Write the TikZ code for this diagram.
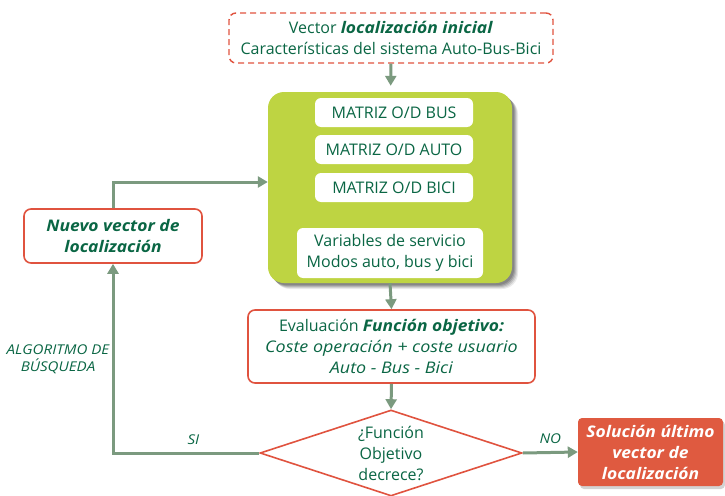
\documentclass[tikz,border=0pt]{standalone}
\usepackage{fontspec}
\setmainfont{Open Sans}[ItalicFeatures={FakeStretch=1.12}, BoldItalicFeatures={FakeStretch=1.09}]
\usetikzlibrary{shapes.geometric,arrows.meta,shadows}
\definecolor{txtgreen}{HTML}{0A6644}
\definecolor{arrowgr}{HTML}{7B9A7F}
\definecolor{redc}{HTML}{E0533F}
\definecolor{lime}{HTML}{BED442}
\definecolor{solred}{HTML}{DF5A40}
\tikzset{
  base/.style={text=txtgreen, align=center, font=\fontsize{16}{21}\selectfont, inner sep=0pt},
  redbox/.style={base, draw=redc, line width=1.6pt, rounded corners=7pt, fill=white},
  whitebox/.style={base, fill=white, rounded corners=6pt},
  flow/.style={draw=arrowgr, line width=3pt, -{Triangle[length=10pt,width=11pt]}},
  plainflow/.style={draw=arrowgr, line width=3pt},
  lbl/.style={text=txtgreen, font=\fontsize{13.5}{17}\selectfont\itshape, align=center, inner sep=0pt},
}
\begin{document}
\begin{tikzpicture}[x=1pt,y=-1pt]
\useasboundingbox (0,0) rectangle (725,495);

% top dashed box
\node[base, draw=redc, line width=1.4pt, dash pattern=on 6pt off 4pt, rounded corners=7pt,
      minimum width=324pt, minimum height=50pt] (top) at (391,38)
  {Vector \textbf{\textit{localización inicial}}\\Características del sistema Auto-Bus-Bici};

% green box with shadow
\foreach \o/\op in {6/0.08,5/0.1,4/0.12,3/0.15,2/0.15}{
  \fill[black, opacity=\op, rounded corners=16pt] (268+\o,92+\o) rectangle (512+\o,283+\o);
}
\node[fill=lime, rounded corners=16pt, minimum width=244pt, minimum height=191pt, inner sep=0pt] (green) at (390,187.5) {};

\node[whitebox, minimum width=158pt, minimum height=29pt] (bus) at (394,112.5) {MATRIZ O/D BUS};
\node[whitebox, minimum width=158pt, minimum height=29pt] (auto) at (394,149.5) {MATRIZ O/D AUTO};
\node[whitebox, minimum width=158pt, minimum height=29pt] (bici) at (394,187.5) {MATRIZ O/D BICI};
\node[whitebox, minimum width=186pt, minimum height=50pt] (vars) at (390,253) {Variables de servicio\\Modos auto, bus y bici};

% evaluation box
\node[redbox, minimum width=287pt, minimum height=73pt] (eval) at (391.5,346.5)
  {Evaluación \textbf{\textit{Función objetivo:}}\\\textit{Coste operación + coste usuario}\\\textit{Auto - Bus - Bici}};

% diamond
\node[base, shape=diamond, aspect=3, draw=redc, line width=1.6pt, fill=white,
      minimum width=262pt, minimum height=86pt] (diam) at (391,453)
  {¿Función\\Objetivo\\decrece?};

% nuevo vector
\node[redbox, minimum width=178pt, minimum height=54pt] (nuevo) at (113,236)
  {\textbf{\textit{Nuevo vector de}}\\\textbf{\textit{localización}}};

% solution
\node[base, text=white, fill=solred, rounded corners=4pt, minimum width=145pt, minimum height=68pt,
      drop shadow={opacity=0.35, shadow xshift=2pt, shadow yshift=-3pt}] (sol) at (650.5,452)
  {\textbf{\textit{Solución último}}\\\textbf{\textit{vector de}}\\\textbf{\textit{localización}}};

\coordinate (cbl) at (113,453);
\coordinate (ctl) at (113,182);

% connectors
\draw[flow, shorten >=6pt] (top) -- (green);
\draw[flow] (green.south) -- (eval.north);
\draw[flow] (eval.south) -- (diam.north);
\draw[flow] (diam.west) -- node[lbl, above=7pt, pos=0.45] (si) {SI} (cbl) -- (nuevo.south);
\draw[plainflow, -{Triangle[length=10pt,width=11pt]}] (nuevo.north) -- (ctl) -- (ctl -| green.west);
\draw[flow] (diam.east) -- node[lbl, above=7pt] (no) {NO} (sol.west);

\node[lbl] (alg) at (58,359) {ALGORITMO DE\\BÚSQUEDA};
\end{tikzpicture}
\end{document}
